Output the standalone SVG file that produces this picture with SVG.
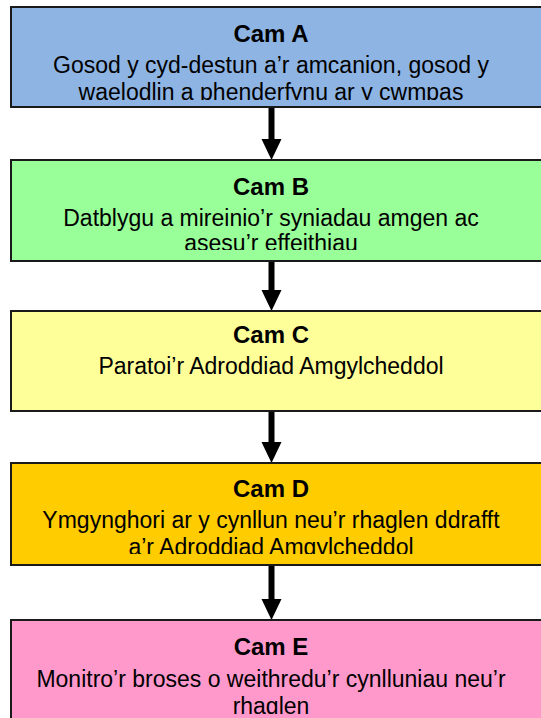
<svg xmlns="http://www.w3.org/2000/svg" width="541" height="718" viewBox="0 0 541 718">
<style>
.box{stroke:#1a1a1a;stroke-width:2}
.t{font-family:"Liberation Sans",Arial,sans-serif;font-size:23px;fill:#000;text-anchor:middle}
.b{font-weight:bold;font-size:24px}
.arr{fill:#000}
</style>
<defs>
<clipPath id="cA"><rect x="0" y="7" width="541" height="93"/></clipPath>
<clipPath id="cB"><rect x="0" y="160" width="541" height="90"/></clipPath>
<clipPath id="cD"><rect x="0" y="463" width="541" height="91"/></clipPath>
<clipPath id="cE"><rect x="0" y="620" width="541" height="94"/></clipPath>
</defs>
<rect width="541" height="718" fill="#fff"/>
<g id="connectors">
<rect class="arr" x="268.5" y="108" width="6" height="32"/><polygon class="arr" points="261.5,139 281.5,139 271.5,160"/>
<rect class="arr" x="268.5" y="262" width="6" height="29"/><polygon class="arr" points="261.5,290 281.5,290 271.5,311"/>
<rect class="arr" x="268.5" y="412" width="6" height="31"/><polygon class="arr" points="261.5,442 281.5,442 271.5,463"/>
<rect class="arr" x="268.5" y="566" width="6" height="34"/><polygon class="arr" points="261.5,599 281.5,599 271.5,620"/>
</g>
<g id="nodeA">
<rect class="box" x="11" y="7" width="540" height="100" fill="#8EB4E3"/>
<g clip-path="url(#cA)">
<text class="t b" x="271" y="42">Cam A</text>
<text class="t" x="271" y="73">Gosod y cyd-destun a’r amcanion, gosod y</text>
<text class="t" x="271" y="100">waelodlin a phenderfynu ar y cwmpas</text>
</g>
</g>
<g id="nodeB">
<rect class="box" x="11" y="160" width="540" height="101" fill="#99FF99"/>
<g clip-path="url(#cB)">
<text class="t b" x="271" y="195">Cam B</text>
<text class="t" x="271" y="226">Datblygu a mireinio’r syniadau amgen ac</text>
<text class="t" x="271" y="251">asesu’r effeithiau</text>
</g>
</g>
<g id="nodeC">
<rect class="box" x="11" y="311" width="540" height="100" fill="#FFFF99"/>
<text class="t b" x="271" y="343">Cam C</text>
<text class="t" x="271" y="374">Paratoi’r Adroddiad Amgylcheddol</text>
</g>
<g id="nodeD">
<rect class="box" x="11" y="463" width="540" height="102" fill="#FFCC00"/>
<g clip-path="url(#cD)">
<text class="t b" x="271" y="497">Cam D</text>
<text class="t" x="271" y="528">Ymgynghori ar y cynllun neu’r rhaglen ddrafft</text>
<text class="t" x="271" y="555">a’r Adroddiad Amgylcheddol</text>
</g>
</g>
<g id="nodeE">
<rect class="box" x="11" y="620" width="540" height="110" fill="#FF99CC"/>
<g clip-path="url(#cE)">
<text class="t b" x="271" y="655">Cam E</text>
<text class="t" x="271" y="687">Monitro’r broses o weithredu’r cynlluniau neu’r</text>
<text class="t" x="271" y="714">rhaglen</text>
</g>
</g>
</svg>
